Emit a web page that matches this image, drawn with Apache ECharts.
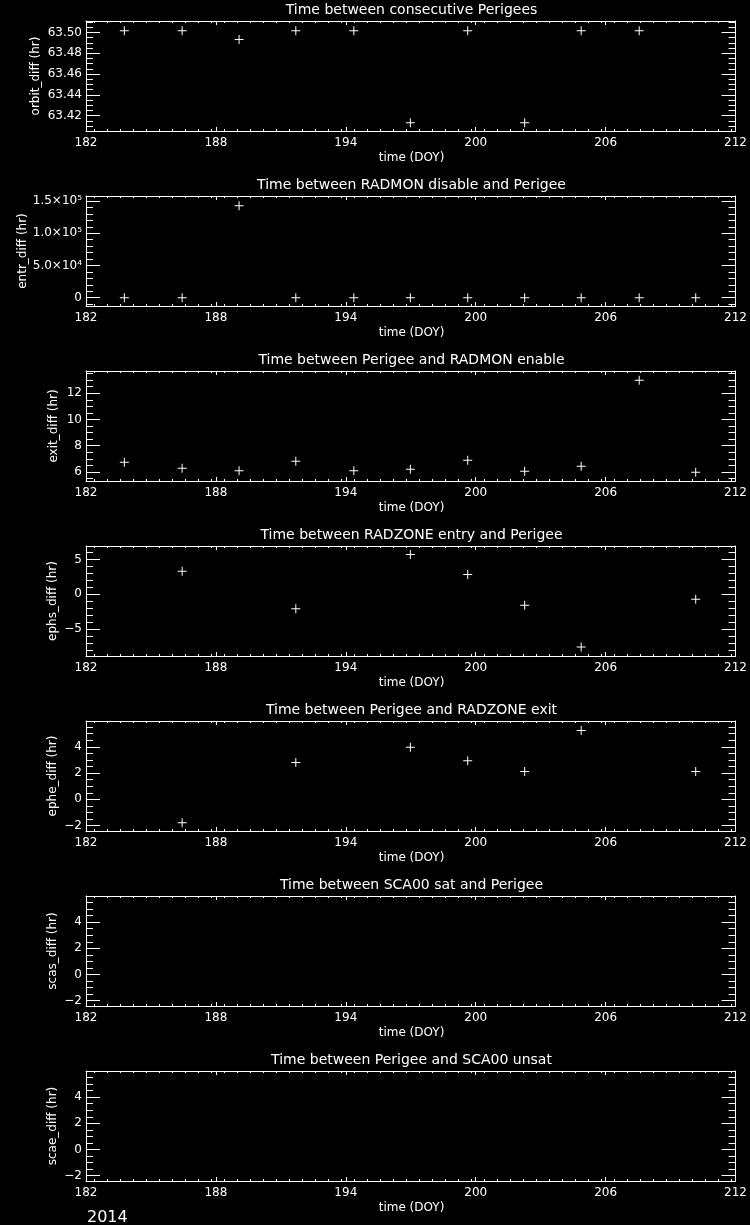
<!DOCTYPE html>
<html><head><meta charset="utf-8">
<script src="https://cdn.jsdelivr.net/npm/echarts@6/dist/echarts.min.js"></script>
<style>html,body{margin:0;padding:0;background:#000;}#c{width:750px;height:1225px;}</style>
</head><body><div id="c"></div>
<script>
// ---- data ----
const perigeeDOY = [183.77,186.44,189.07,191.69,194.37,196.98,199.63,202.26,204.87,207.55,210.16];
const titles = [
  'Time between consecutive Perigees',
  'Time between RADMON disable and Perigee',
  'Time between Perigee and RADMON enable',
  'Time between RADZONE entry and Perigee',
  'Time between Perigee and RADZONE exit',
  'Time between SCA00 sat and Perigee',
  'Time between Perigee and SCA00 unsat'
];
const yNames = ['orbit_diff (hr)','entr_diff (hr)','exit_diff (hr)','ephs_diff (hr)','ephe_diff (hr)','scas_diff (hr)','scae_diff (hr)'];
const orbitDiff = [63.5016,63.5016,63.4933,63.5016,63.5016,63.4133,63.5016,63.4133,63.5016,63.5016,null];
const entrDiff  = [0,0,142750,0,0,0,0,0,0,0,0];
const exitDiff  = [6.74,6.28,6.10,6.82,6.10,6.20,6.89,6.05,6.43,13.0,5.98];
const ephsDiff  = [null,3.31,null,-2.07,null,5.71,2.83,-1.59,-7.55,null,-0.72];
const epheDiff  = [null,-1.79,null,2.81,null,3.96,2.93,2.12,5.23,null,2.12];
const scasDiff  = [];
const scaeDiff  = [];
const seriesValues = [orbitDiff,entrDiff,exitDiff,ephsDiff,epheDiff,scasDiff,scaeDiff];

const xMin = 182, xMax = 212;
const xTicks = [182,188,194,200,206,212];
const xTickLabels = ['182','188','194','200','206','212'];
const xMinorStep = 0.6;
const xName = 'time (DOY)';

const yMins = [63.4053,-12900,5.31,-8.85,-2.41,-2.41,-2.41];
const yMaxs = [63.511,157800,13.70,6.92,5.96,6.0,6.0];
const yTicks = [
  [63.42,63.44,63.46,63.48,63.50],
  [0,50000,100000,150000],
  [6,8,10,12],
  [-5,0,5],
  [-2,0,2,4],
  [-2,0,2,4],
  [-2,0,2,4]
];
const yTickLabels = [
  ['63.42','63.44','63.46','63.48','63.50'],
  ['0','5.0×10⁴','1.0×10⁵','1.5×10⁵'],
  ['6','8','10','12'],
  ['−5','0','5'],
  ['−2','0','2','4'],
  ['−2','0','2','4'],
  ['−2','0','2','4']
];
const yMinorSteps = [0.005,10000,0.5,1,0.5,0.5,0.5];
const yearLabel = '2014';

// ---- layout ----
const gridTops = [21,196,371,546,721,896,1071];
const gridLeft = 86, gridWidth = 651, gridHeight = 110;
const yNameX = [36,23,54,53,53,53,53];
const FONT = '"DejaVu Sans", sans-serif';
const WHITE = '#ffffff';

function minorVals(min,max,step){
  const out=[]; let k=Math.ceil(min/step-1e-9);
  while(k*step<=max+1e-9){ out.push(+(k*step).toFixed(6)); k++; }
  return out;
}
function labelFor(vals,labels){
  return function(v){ for(let j=0;j<vals.length;j++){ if(Math.abs(vals[j]-v)<1e-7*Math.max(1,Math.abs(v))) return labels[j]; } return ''; };
}
const lineW = {color:WHITE,width:1};
const xMinor = minorVals(xMin,xMax,xMinorStep);

const option = {backgroundColor:'#000', animation:false, grid:[], xAxis:[], yAxis:[], series:[], graphic:[]};

for(let i=0;i<7;i++){
  option.grid.push({left:gridLeft, top:gridTops[i], width:gridWidth, height:gridHeight, containLabel:false});
  const base = {gridIndex:i, type:'value', min:xMin, max:xMax, splitLine:{show:false}};
  // x axes
  option.xAxis.push(Object.assign({}, base, {position:'bottom',
    axisLine:{show:true,onZero:false,lineStyle:lineW},
    axisTick:{show:true,inside:true,length:4,customValues:xTicks,lineStyle:lineW},
    axisLabel:{show:true,customValues:xTicks,formatter:labelFor(xTicks,xTickLabels),color:WHITE,fontSize:12,fontFamily:FONT,margin:6}}));
  option.xAxis.push(Object.assign({}, base, {position:'bottom',
    axisLine:{show:false,onZero:false},
    axisTick:{show:true,inside:true,length:2,customValues:xMinor,lineStyle:lineW},
    axisLabel:{show:false}}));
  option.xAxis.push(Object.assign({}, base, {position:'top',
    axisLine:{show:true,onZero:false,lineStyle:lineW},
    axisTick:{show:true,inside:true,length:4,customValues:xTicks,lineStyle:lineW},
    axisLabel:{show:false}}));
  option.xAxis.push(Object.assign({}, base, {position:'top',
    axisLine:{show:false,onZero:false},
    axisTick:{show:true,inside:true,length:2,customValues:xMinor,lineStyle:lineW},
    axisLabel:{show:false}}));
  // y axes
  const yb = {gridIndex:i, type:'value', min:yMins[i], max:yMaxs[i], splitLine:{show:false}, scale:true};
  const yMinor = minorVals(yMins[i],yMaxs[i],yMinorSteps[i]);
  option.yAxis.push(Object.assign({}, yb, {position:'left',
    axisLine:{show:true,onZero:false,lineStyle:lineW},
    axisTick:{show:true,inside:true,length:14,customValues:yTicks[i],lineStyle:lineW},
    axisLabel:{show:true,customValues:yTicks[i],formatter:labelFor(yTicks[i],yTickLabels[i]),color:WHITE,fontSize:12,fontFamily:FONT,margin:4}}));
  option.yAxis.push(Object.assign({}, yb, {position:'left',
    axisLine:{show:false,onZero:false},
    axisTick:{show:true,inside:true,length:7,customValues:yMinor,lineStyle:lineW},
    axisLabel:{show:false}}));
  option.yAxis.push(Object.assign({}, yb, {position:'right',
    axisLine:{show:true,onZero:false,lineStyle:lineW},
    axisTick:{show:true,inside:true,length:14,customValues:yTicks[i],lineStyle:lineW},
    axisLabel:{show:false}}));
  option.yAxis.push(Object.assign({}, yb, {position:'right',
    axisLine:{show:false,onZero:false},
    axisTick:{show:true,inside:true,length:7,customValues:yMinor,lineStyle:lineW},
    axisLabel:{show:false}}));

  const vals = seriesValues[i];
  const pts = [];
  for(let j=0;j<vals.length;j++){ if(vals[j]!==null && vals[j]!==undefined) pts.push([perigeeDOY[j],vals[j]]); }
  option.series.push({type:'scatter', xAxisIndex:4*i, yAxisIndex:4*i, data:pts,
    symbol:'path://M-4.5,-0.5H4.5V0.5H-4.5Z M-0.5,-4.5H0.5V4.5H-0.5Z', symbolSize:9,
    itemStyle:{color:WHITE, opacity:1}, silent:true});

  option.graphic.push({type:'text', x:gridLeft+gridWidth/2, y:gridTops[i]-11,
    style:{text:titles[i], fill:WHITE, font:'14px '+FONT, align:'center', verticalAlign:'middle', textAlign:'center', textVerticalAlign:'middle'}});
  option.graphic.push({type:'text', x:gridLeft+gridWidth/2, y:gridTops[i]+gridHeight+27,
    style:{text:xName, fill:WHITE, font:'12px '+FONT, align:'center', verticalAlign:'middle', textAlign:'center', textVerticalAlign:'middle'}});
  option.graphic.push({type:'text', x:yNameX[i], y:gridTops[i]+gridHeight/2, rotation:Math.PI/2,
    style:{text:yNames[i], fill:WHITE, font:'12px '+FONT, align:'center', verticalAlign:'middle', textAlign:'center', textVerticalAlign:'middle'}});
}
option.graphic.push({type:'text', x:87, y:1218,
  style:{text:yearLabel, fill:WHITE, font:'16px '+FONT, align:'left', verticalAlign:'middle', textAlign:'left', textVerticalAlign:'middle'}});

const chart = echarts.init(document.getElementById('c'), null, {renderer:'canvas'});
chart.setOption(option);
</script></body></html>
